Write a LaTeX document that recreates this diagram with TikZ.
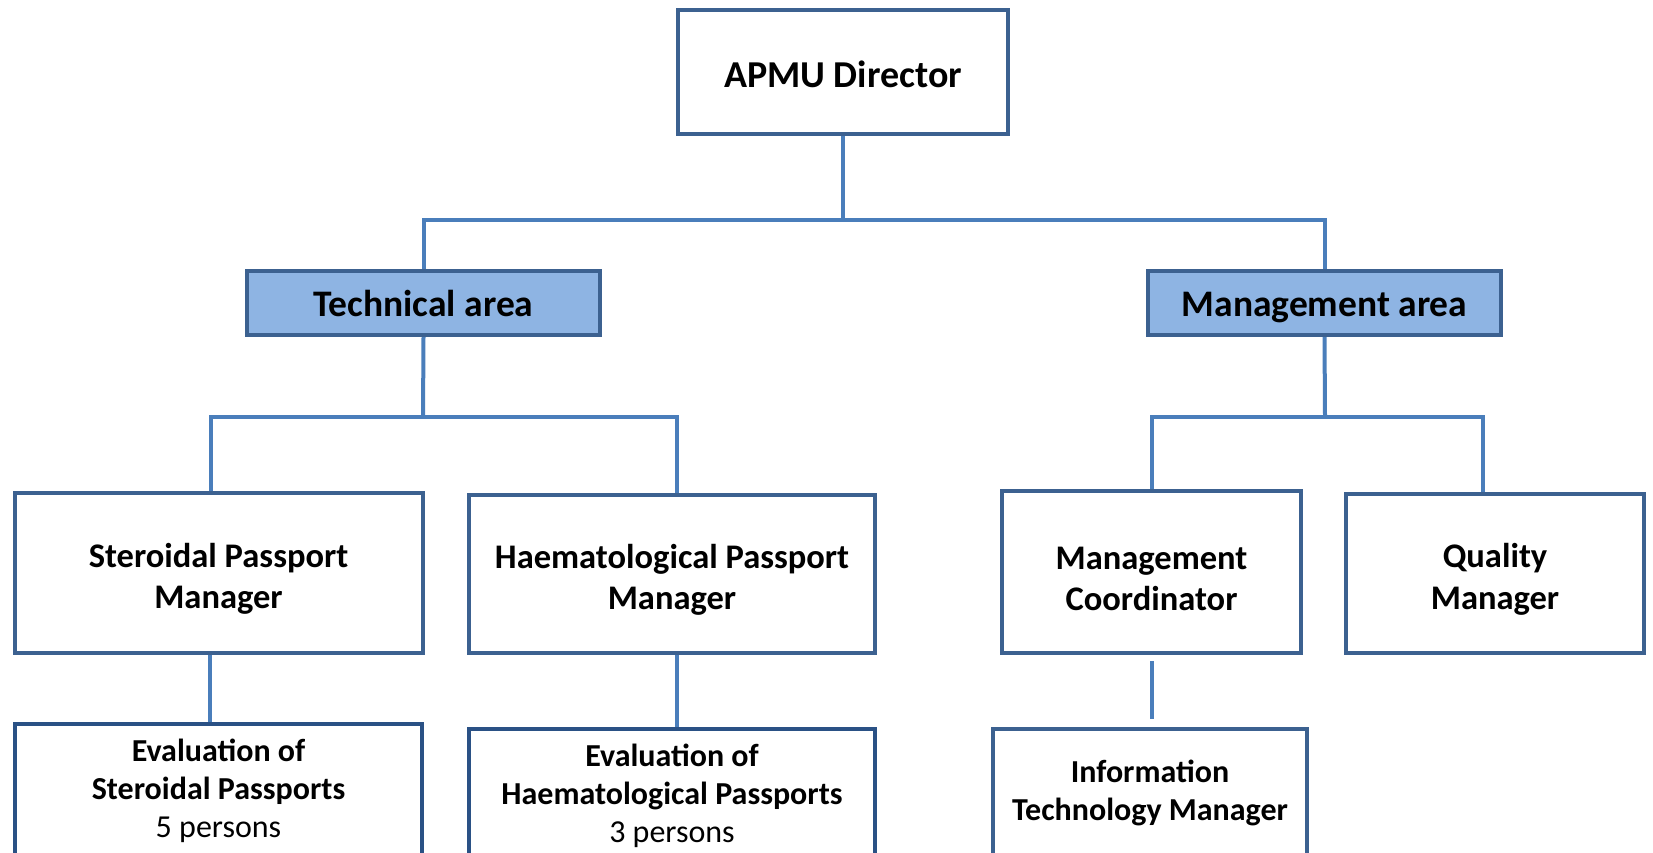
\documentclass[tikz,border=0pt]{standalone}
\usepackage{fontspec}
\setmainfont{Carlito}
\usetikzlibrary{backgrounds}
\definecolor{bordc}{HTML}{3C6190}
\definecolor{bordd}{HTML}{2A5185}
\definecolor{connc}{HTML}{4A7EBB}
\definecolor{areaf}{HTML}{8EB4E3}
\newcommand{\lowr}{\rule{0pt}{36pt}}
\begin{document}
\begin{tikzpicture}[x=1pt,y=-1pt,
  box/.style={draw=bordc, line width=4pt, fill=white, rectangle, inner sep=0pt,
    align=center, font=\bfseries\fontsize{34.5}{41.5}\selectfont},
  topbox/.style={box, font=\bfseries\fontsize{38}{44}\selectfont, text height=32pt, text depth=0pt},
  areabox/.style={box, fill=areaf, font=\bfseries\fontsize{37.5}{44}\selectfont, text height=26pt, text depth=0pt},
  evalbox/.style={box, draw=bordd, font=\bfseries\fontsize{32}{38}\selectfont},
  itbox/.style={box, font=\bfseries\fontsize{32}{38}\selectfont},
  conn/.style={draw=connc, line width=4pt, line join=miter}
]
\useasboundingbox (0,0) rectangle (1653,853);
\clip (0,0) rectangle (1653,853);

% top level
\node[topbox, minimum width=330pt, minimum height=124pt] (dir) at (843,72) {APMU Director};

% areas
\node[areabox, minimum width=353pt, minimum height=64pt] (tech) at (423.5,303) {Technical area};
\node[areabox, minimum width=353pt, minimum height=64pt] (mgmt) at (1324.5,303) {Management area};

% managers
\node[box, minimum width=408pt, minimum height=160pt] (stero) at (218.5,573) {\lowr Steroidal Passport\\Manager};
\node[box, minimum width=406pt, minimum height=158pt] (haem) at (672,574) {\lowr Haematological Passport\\Manager};
\node[box, minimum width=299pt, minimum height=162pt] (mc) at (1151.5,572) {\lowr Management\\Coordinator};
\node[box, minimum width=298pt, minimum height=159pt] (qm) at (1495,573.5) {\lowr Quality\\Manager};

% bottom row
\node[evalbox, minimum width=407pt, minimum height=134pt] (evst) at (218.5,791) {Evaluation of\\Steroidal Passports\\{\mdseries 5 persons}};
\node[evalbox, minimum width=406pt, minimum height=134pt] (evhm) at (672,796) {Evaluation of\\Haematological Passports\\{\mdseries 3 persons}};
\node[itbox, minimum width=314pt, minimum height=128pt] (it) at (1150,793) {Information\\Technology Manager};

\coordinate (j0) at (843,220);
\coordinate (j1) at (423,417);
\coordinate (j2) at (1325,417);

\begin{scope}[on background layer]
  \fill[white] (0,0) rectangle (1653,853);
  \draw[conn] (dir.south) -- (j0);
  \draw[conn] (j0) -| (tech.north);
  \draw[conn] (j0) -| (mgmt.north);
  \draw[conn] (tech.south) -- (j1);
  \draw[conn] (j1) -| ([xshift=-7.5pt]stero.north);
  \draw[conn] (j1) -| ([xshift=5pt]haem.north);
  \draw[conn] (mgmt.south) -- (j2);
  \draw[conn] (j2) -| (mc.north);
  \draw[conn] (j2) -| ([xshift=-12pt]qm.north);
  \draw[conn] ([xshift=-8.5pt]stero.south) -- ([xshift=-8.5pt]stero.south |- evst.north);
  \draw[conn] ([xshift=5pt]haem.south) -- ([xshift=5pt]haem.south |- evhm.north);
  \draw[conn, shorten <=6pt, shorten >=8pt] (mc.south) -- (mc.south |- it.north);
\end{scope}
\end{tikzpicture}
\end{document}
